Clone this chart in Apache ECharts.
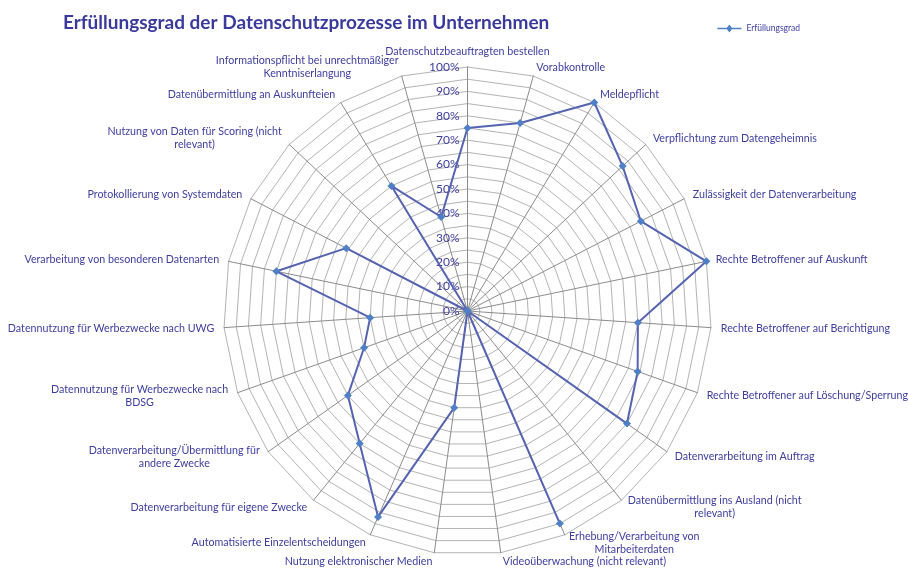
<!DOCTYPE html>
<html>
<head>
<meta charset="utf-8">
<script src="https://cdn.jsdelivr.net/npm/echarts@6/dist/echarts.min.js"></script>
<style>html,body{margin:0;padding:0;background:#fff}#c{width:908px;height:570px}</style>
</head>
<body>
<div id="c"></div>
<script>
// Categories clockwise from top
var categories = [
  "Datenschutzbeauftragten bestellen",
  "Vorabkontrolle",
  "Meldepflicht",
  "Verpflichtung zum Datengeheimnis",
  "Zulässigkeit der Datenverarbeitung",
  "Rechte Betroffener auf Auskunft",
  "Rechte Betroffener auf Berichtigung",
  "Rechte Betroffener auf Löschung/Sperrung",
  "Datenverarbeitung im Auftrag",
  "Datenübermittlung ins Ausland (nicht\nrelevant)",
  "Erhebung/Verarbeitung von\nMitarbeiterdaten",
  "Videoüberwachung (nicht relevant)",
  "Nutzung elektronischer Medien",
  "Automatisierte Einzelentscheidungen",
  "Datenverarbeitung für eigene Zwecke",
  "Datenverarbeitung/Übermittlung für\nandere Zwecke",
  "Datennutzung für Werbezwecke nach\nBDSG",
  "Datennutzung für Werbezwecke nach UWG",
  "Verarbeitung von besonderen Datenarten",
  "Protokollierung von Systemdaten",
  "Nutzung von Daten für Scoring (nicht\nrelevant)",
  "Datenübermittlung an Auskunfteien",
  "Informationspflicht bei unrechtmäßiger\nKenntniserlangung"
];
var seriesName = "Erfüllungsgrad";
var values = [75, 80, 100, 87, 80, 100, 70, 74, 80, 0, 95, 0, 40, 92, 70, 60, 45, 40, 80, 56, 0, 60, 40];
var axisMax = 100;
var tickStep = 10;
var titleText = "Erfüllungsgrad der Datenschutzprozesse im Unternehmen";

var textColor = '#3d3d9e';
var nameSize = 10.7;

// measure label lines so multi-line names are centred line by line
var ctx = document.createElement('canvas').getContext('2d');
ctx.font = nameSize + 'px Lato';
var rich = {};
categories.forEach(function (c, i) {
  var w = 0;
  c.split('\n').forEach(function (l) { w = Math.max(w, ctx.measureText(l).width); });
  rich['r' + i] = { width: Math.ceil(w) + 1, align: 'center', color: textColor, fontSize: nameSize, fontFamily: 'Lato', lineHeight: 13 };
});

// ECharts radar lays indicators counter-clockwise; reorder to get clockwise
var order = [0];
for (var i = categories.length - 1; i >= 1; i--) order.push(i);

var indicators = order.map(function (idx, k) {
  var ind = { name: categories[idx], max: axisMax, min: 0 };
  if (k === 0) {
    ind.axisLabel = {
      show: true, color: textColor, fontSize: 12, fontFamily: 'Lato',
      showMinLabel: true, showMaxLabel: true,
      formatter: function (v) { return (Math.round(v) % tickStep === 0) ? Math.round(v) + '%' : ''; }
    };
  }
  return ind;
});
var data = order.map(function (idx) { return values[idx]; });

var chart = echarts.init(document.getElementById('c'), null, { renderer: 'canvas' });
chart.setOption({
  animation: false,
  backgroundColor: '#fff',
  title: {
    text: titleText, left: 58, top: 8,
    textStyle: { color: '#3a3a9c', fontSize: 19, fontWeight: 'bold', fontFamily: 'Lato' }
  },
  legend: {
    data: [seriesName], right: 103, top: 19,
    icon: 'path://M0,4.3 L9.5,4.3 L12,1 L14.5,4.3 L24,4.3 L24,5.7 L14.5,5.7 L12,9 L9.5,5.7 L0,5.7 Z',
    itemWidth: 24, itemHeight: 8, itemGap: 4,
    textStyle: { color: textColor, fontSize: 8.5, fontFamily: 'Lato' }
  },
  radar: {
    center: [467.5, 311],
    radius: 244,
    startAngle: 90,
    shape: 'polygon',
    splitNumber: 20,
    indicator: indicators,
    axisName: {
      color: textColor, fontSize: nameSize, fontFamily: 'Lato', rich: rich,
      formatter: function (name) {
        var idx = categories.indexOf(name);
        return name.split('\n').map(function (l) { return '{r' + idx + '|' + l + '}'; }).join('\n');
      }
    },
    nameGap: 9,
    axisLine: { lineStyle: { color: '#8c8c8c', width: 1 } },
    splitLine: { lineStyle: { color: '#b4b4b4', width: 1 } },
    splitArea: { show: false },
    axisLabel: { show: false }
  },
  series: [{
    type: 'radar',
    name: seriesName,
    symbol: 'diamond',
    symbolSize: 8,
    lineStyle: { color: '#5563b0', width: 2 },
    itemStyle: { color: '#4f7fc4' },
    data: [{ value: data, name: seriesName }]
  }]
});
</script>
</body>
</html>
